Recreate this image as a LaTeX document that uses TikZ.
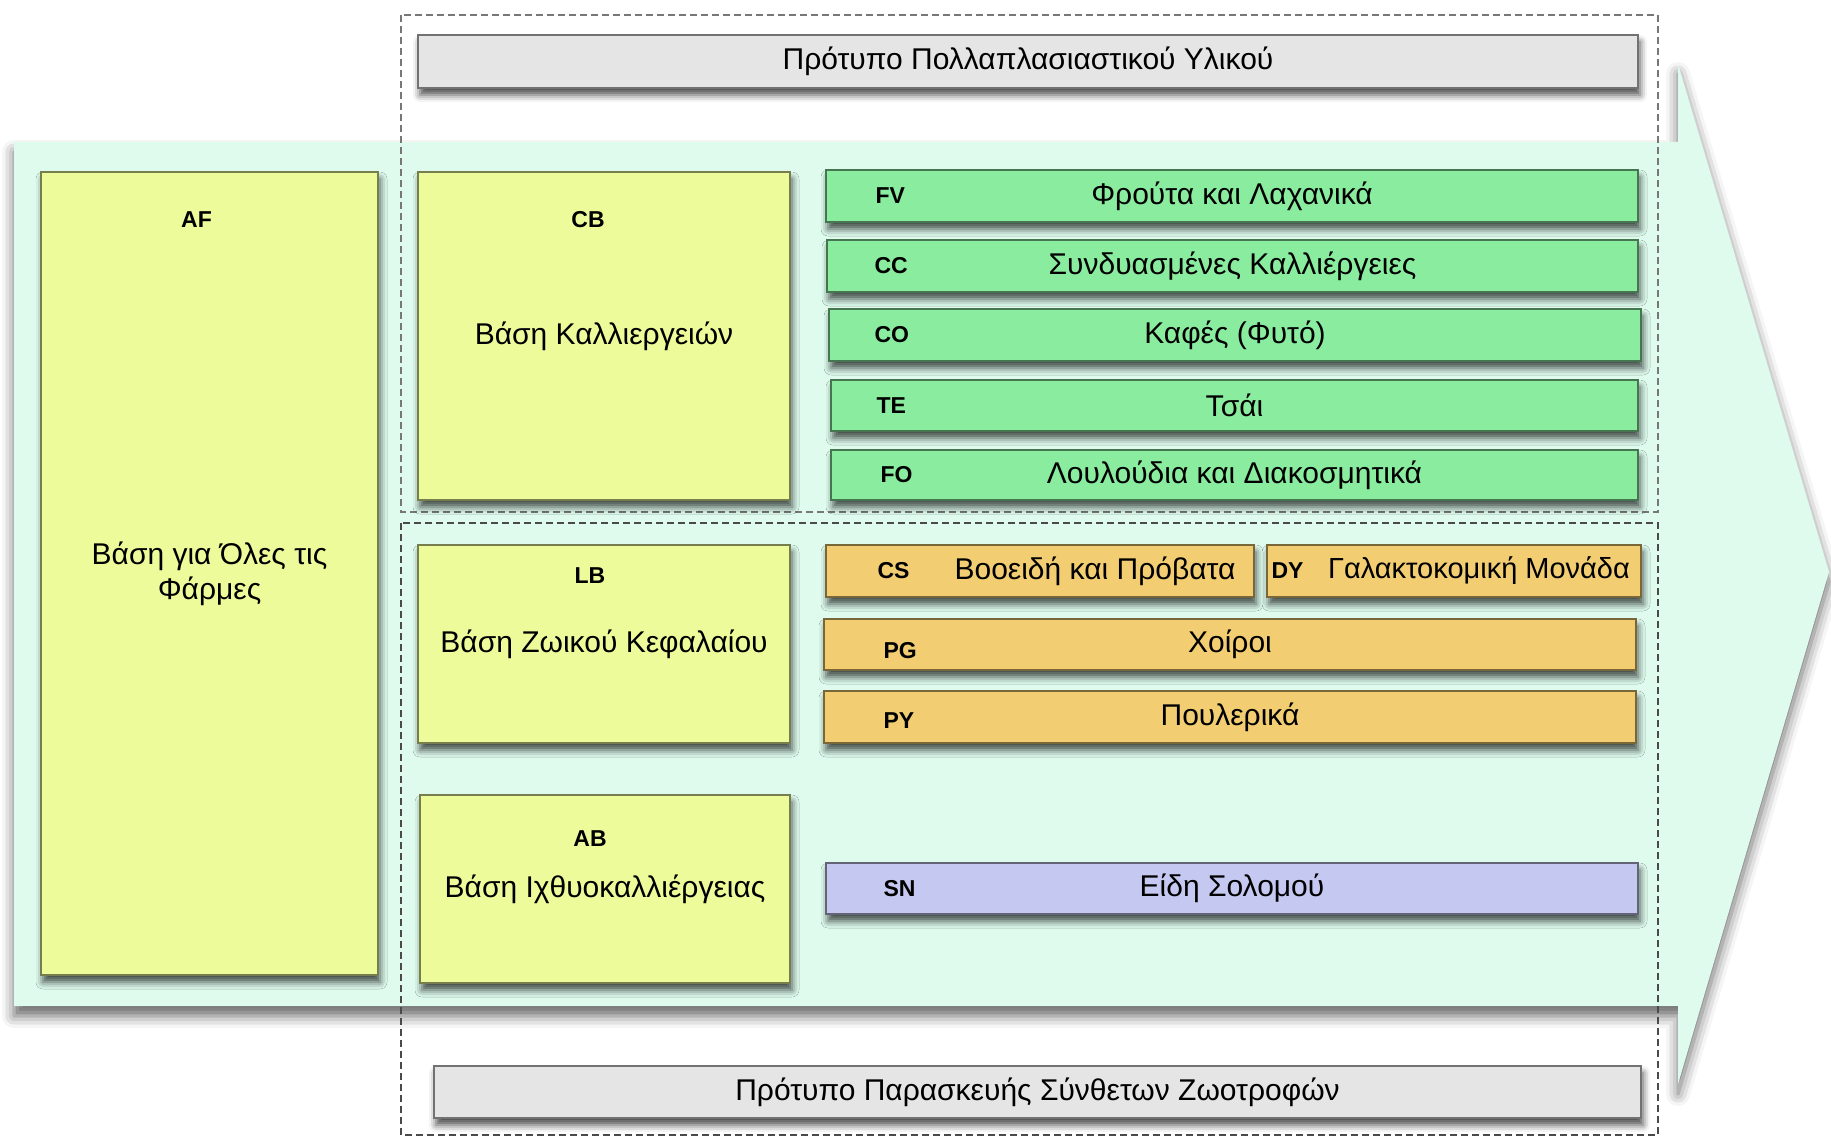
\documentclass[tikz,border=0pt]{standalone}
\usepackage{fontspec}
\setmainfont{Liberation Sans}
\usetikzlibrary{positioning,shadows.blur}

\definecolor{arrowfill}{HTML}{DEFBEE}
\definecolor{basefill}{HTML}{EEFB9A}
\definecolor{cropfill}{HTML}{8AEC9E}
\definecolor{stockfill}{HTML}{F2CD72}
\definecolor{fishfill}{HTML}{C5C8F0}
\definecolor{stdfill}{HTML}{E5E5E5}
\definecolor{dashgray}{HTML}{4A4A4A}

\tikzset{
    bar/.style={
        rectangle,
        draw=#1!50!black,
        fill=#1,
        line width=1.2pt,
        inner sep=0pt,
        align=center,
        font=\fontsize{30}{35}\selectfont,
        blur shadow={shadow xshift=2pt,shadow yshift=-7pt,
            shadow blur radius=7pt,shadow opacity=70}
    },
    code/.style={
        inner sep=0pt,
        font=\bfseries\fontsize{23}{27}\selectfont
    },
    plain/.style={
        inner sep=0pt,
        font=\fontsize{30}{35}\selectfont
    },
    group/.style={
        draw=dashgray,
        line width=2.7pt,
        dash pattern=on 7pt off 4pt
    }
}

\begin{document}
\begin{tikzpicture}[x=1pt,y=-1pt]
\useasboundingbox (0,0) rectangle (1831,1139);

% big arrow behind the groups
\fill[arrowfill,blur shadow={shadow xshift=0pt,shadow yshift=-10pt,
    shadow blur radius=12pt,shadow opacity=60}]
  (14,142) -- (1678,142) -- (1678,64) -- (1829,572)
  -- (1678,1084) -- (1678,1006) -- (14,1006) -- cycle;

% dashed groups
\draw[group,draw=dashgray!75] (401,15) rectangle (1658,512);
\draw[group] (401,523) rectangle (1658,1135);

% standards
\node[bar=stdfill,minimum width=1220pt,minimum height=53pt] (mult) at (1028,61.5)
  {Πρότυπο Πολλαπλασιαστικού Υλικού};
\node[bar=stdfill,minimum width=1207pt,minimum height=52pt] (feed) at (1037.5,1092)
  {Πρότυπο Παρασκευής Σύνθετων Ζωοτροφών};

% bases
\node[bar=basefill,minimum width=337pt,minimum height=803pt] (af) at (209.5,573.5)
  {Βάση για Όλες τις\\Φάρμες};
\node[bar=basefill,minimum width=372pt,minimum height=328pt] (cb) at (604,336)
  {Βάση Καλλιεργειών};
\node[bar=basefill,minimum width=372pt,minimum height=198pt] (lb) at (604,644)
  {Βάση Ζωικού Κεφαλαίου};
\node[bar=basefill,minimum width=370pt,minimum height=188pt] (ab) at (605,889)
  {Βάση Ιχθυοκαλλιέργειας};
\node[code,below=40pt of af.north,xshift=-13pt] (afcode) {AF};
\node[code,below=40pt of cb.north,xshift=-16pt] (cbcode) {CB};
\node[code,below=23pt of lb.north,xshift=-14pt] (lbcode) {LB};
\node[code,below=36pt of ab.north,xshift=-15pt] (abcode) {AB};

% crops
\node[bar=cropfill,minimum width=812pt,minimum height=52pt] (fv) at (1232,196)
  {Φρούτα και Λαχανικά};
\node[bar=cropfill,minimum width=811pt,minimum height=52pt] (cc) at (1232.5,266)
  {Συνδυασμένες Καλλιέργειες};
\node[bar=cropfill,minimum width=812pt,minimum height=52pt] (co) at (1235,335)
  {Καφές (Φυτό)};
\node[bar=cropfill,minimum width=807pt,minimum height=51pt] (te) at (1234.5,405.5)
  {Τσάι};
\node[bar=cropfill,minimum width=807pt,minimum height=50pt] (fo) at (1234.5,475)
  {Λουλούδια και Διακοσμητικά};
\node[code,right=50pt of fv.west] (fvcode) {FV};
\node[code,right=48pt of cc.west] (cccode) {CC};
\node[code,right=46pt of co.west] (cocode) {CO};
\node[code,right=46pt of te.west] (tecode) {TE};
\node[code,right=50pt of fo.west] (focode) {FO};

% livestock
\node[bar=stockfill,minimum width=428pt,minimum height=52pt] (cs) at (1040,571) {};
\node[bar=stockfill,minimum width=374pt,minimum height=52pt] (dy) at (1454,571) {};
\node[plain] (cstext) at (1095,571) {Βοοειδή και Πρόβατα};
\node[plain,font=\fontsize{29}{34}\selectfont] (dytext) at (1479,571)
  {Γαλακτοκομική Μονάδα};
\node[bar=stockfill,minimum width=812pt,minimum height=51pt] (pg) at (1230,644.5)
  {Χοίροι};
\node[bar=stockfill,minimum width=812pt,minimum height=52pt] (py) at (1230,717)
  {Πουλερικά};
\node[code,right=52pt of cs.west] (cscode) {CS};
\node[code,right=5pt of dy.west] (dycode) {DY};
\node[code,right=60pt of pg.west,yshift=-6pt] (pgcode) {PG};
\node[code,right=60pt of py.west,yshift=-4pt] (pycode) {PY};

% aquaculture
\node[bar=fishfill,minimum width=812pt,minimum height=51pt] (sn) at (1232,888.5)
  {Είδη Σολομού};
\node[code,right=58pt of sn.west] (sncode) {SN};
\end{tikzpicture}
\end{document}
